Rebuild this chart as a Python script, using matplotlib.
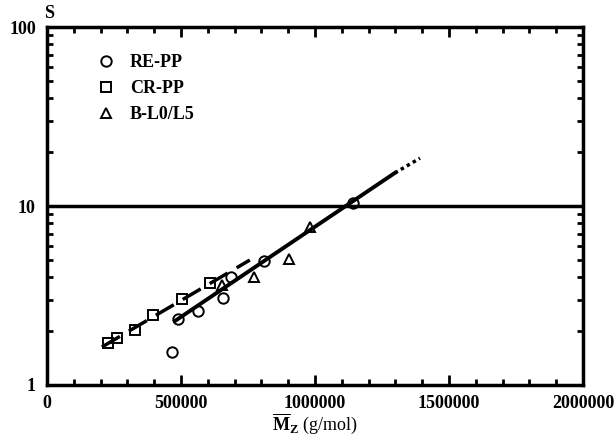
import numpy as np
import matplotlib.pyplot as plt
from matplotlib.ticker import MultipleLocator, LogLocator, NullFormatter, FixedLocator

plt.rcParams['font.family'] = ['Liberation Serif', 'DejaVu Serif']
plt.rcParams['font.weight'] = 'bold'
plt.rcParams['mathtext.fontset'] = 'custom'
plt.rcParams['mathtext.rm'] = 'Liberation Serif:bold'
plt.rcParams['mathtext.bf'] = 'Liberation Serif:bold'

# RE-PP
re_mz = [466000, 489000, 563000, 657000, 686000, 810000, 1142000]
re_s = [1.53, 2.34, 2.59, 3.06, 4.01, 4.93, 10.4]
# CR-PP
cr_mz = [228000, 261000, 328000, 396000, 503000, 608000]
cr_s = [1.71, 1.83, 2.03, 2.46, 3.01, 3.71]
# B-L0/L5
bl_mz = [652000, 772000, 903000, 981000]
bl_s = [3.62, 4.01, 5.06, 7.64]

# fitted lines (end points)
fit_cr_mz = [205000, 757000]
fit_cr_s = [1.63, 4.99]
fit_re_mz = [478000, 1298000]
fit_re_s = [2.28, 15.3]
ext_re_mz = [1298000, 1392000]
ext_re_s = [15.3, 18.5]

s_ref = 10

fig = plt.figure(figsize=(6.16, 4.44), dpi=100)
ax = fig.add_axes([0.0763, 0.133, 0.870, 0.806])

ax.axhline(s_ref, color='black', lw=2.5)
ax.plot(fit_cr_mz, fit_cr_s, color='black', lw=2.5, dashes=(6, 3))
ax.plot(fit_re_mz, fit_re_s, color='black', lw=2.8)
ax.plot(ext_re_mz, ext_re_s, color='black', lw=2.5, dashes=(1, 1))

mk = dict(linestyle='none', markerfacecolor='none', markeredgecolor='black',
          markersize=7.5, markeredgewidth=1.4)
ax.plot(re_mz, re_s, marker='o', label='RE-PP', **mk)
ax.plot(cr_mz, cr_s, marker='s', label='CR-PP', **mk)
ax.plot(bl_mz, bl_s, marker='^', label='B-L0/L5', **mk)

ax.set_yscale('log')
ax.set_xlim(0, 2000000)
ax.set_ylim(1, 100)
ax.xaxis.set_major_locator(MultipleLocator(500000))
ax.xaxis.set_minor_locator(MultipleLocator(100000))
ax.yaxis.set_major_locator(FixedLocator([1, 10, 100]))
ax.yaxis.set_major_formatter(plt.FuncFormatter(lambda v, p: '%d' % v))
ax.yaxis.set_minor_locator(LogLocator(base=10, subs=np.arange(2, 10)))
ax.yaxis.set_minor_formatter(NullFormatter())
ax.xaxis.set_major_formatter(plt.FuncFormatter(lambda v, p: '%d' % v))

ax.tick_params(which='both', direction='in', top=True, right=True, labelsize=13)
ax.tick_params(which='major', length=7, width=2)
ax.tick_params(which='minor', length=4, width=2)
ax.tick_params(axis='y', pad=8)
ax.tick_params(axis='x', pad=7)
for sp in ax.spines.values():
    sp.set_linewidth(2.5)

ax.set_xlabel(r'$\overline{\mathbf{M}}_\mathbf{Z}$ (g/mol)', fontsize=13, labelpad=0)
ax.text(-0.005, 1.015, 'S', transform=ax.transAxes, fontsize=13, fontweight='bold',
        ha='left', va='bottom')

ax.legend(loc='upper left', frameon=False, fontsize=13, handletextpad=0.5,
          handlelength=1.6, labelspacing=0.5, bbox_to_anchor=(0.07, 0.945),
          borderaxespad=0)

fig.savefig('out.png', dpi=100)
